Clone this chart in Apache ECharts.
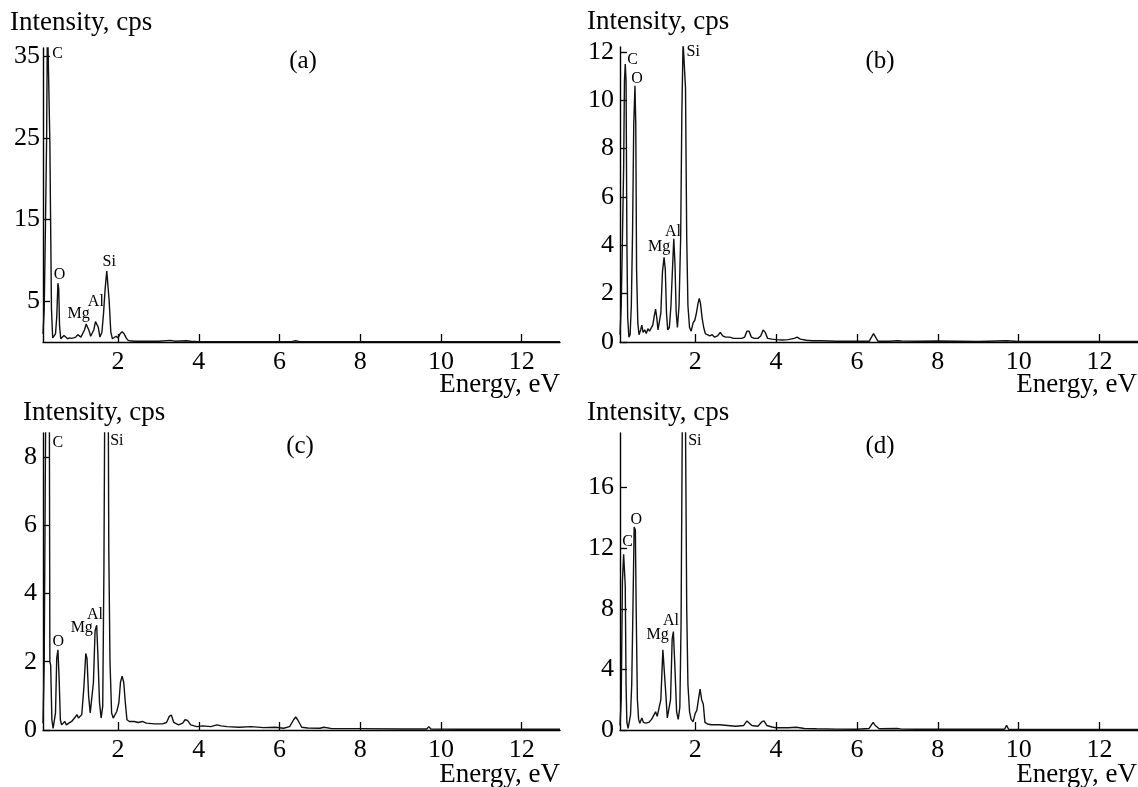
<!DOCTYPE html>
<html>
<head>
<meta charset="utf-8">
<script src="https://cdn.jsdelivr.net/npm/echarts@6/dist/echarts.min.js"></script>
<style>
html,body{margin:0;padding:0;background:#fff;}
#chart{width:1138px;height:787px;}
</style>
</head>
<body>
<div id="chart"></div>
<script>
// ---- Data (energy keV, intensity cps) ----
const spectrumA = [[0.14,1],[0.17,4],[0.2,14],[0.23,25],[0.25,40],[0.27,40],[0.29,40],[0.31,24.5],[0.33,14],[0.35,4],[0.38,0.5],[0.42,0.3],[0.45,1],[0.48,3],[0.51,7.2],[0.53,6.5],[0.55,2],[0.58,0.4],[0.62,0.3],[0.66,0.8],[0.70,0.6],[0.75,0.4],[0.80,0.5],[0.85,0.45],[0.9,0.5],[0.95,0.6],[1.0,0.9],[1.04,0.8],[1.08,0.6],[1.12,0.7],[1.17,1.5],[1.21,2.2],[1.24,2.3],[1.28,1.4],[1.32,0.7],[1.36,0.8],[1.40,1.5],[1.44,2.5],[1.47,2.7],[1.51,1.8],[1.55,0.6],[1.60,1.2],[1.64,3.5],[1.68,6.5],[1.72,8.7],[1.75,8.7],[1.78,5],[1.82,1.2],[1.86,0.4],[1.9,0.3],[1.95,0.7],[2.0,0.5],[2.05,1.0],[2.1,1.25],[2.15,1.0],[2.2,0.5],[2.25,0.2],[2.3,0.15],[2.4,0.1],[2.6,0.1],[2.8,0.1],[3.0,0.1],[3.3,0.2],[3.4,0.1],[3.7,0.15],[3.8,0.1],[4.0,0.05],[5,0.05],[6.3,0.05],[6.4,0.15],[6.5,0.05],[8,0.05],[12.95,0.05]];
const spectrumB = [[0.14,0.3],[0.17,1.5],[0.2,4.3],[0.23,7.2],[0.25,10.8],[0.27,11.5],[0.29,10.8],[0.31,4.3],[0.33,1.0],[0.36,0.2],[0.39,0.3],[0.42,1.5],[0.45,4.5],[0.48,9.0],[0.51,10.6],[0.53,9.0],[0.55,3.0],[0.58,0.8],[0.61,0.3],[0.65,0.5],[0.68,0.7],[0.71,0.4],[0.75,0.5],[0.79,0.35],[0.83,0.55],[0.87,0.45],[0.91,0.5],[0.95,0.7],[0.99,1.1],[1.02,1.36],[1.05,1.0],[1.08,0.5],[1.11,0.5],[1.15,1.2],[1.19,2.9],[1.23,3.5],[1.26,3.0],[1.29,1.2],[1.32,0.5],[1.36,0.6],[1.40,1.5],[1.44,3.1],[1.47,4.27],[1.50,3.2],[1.53,1.2],[1.56,0.6],[1.60,1.5],[1.64,4.3],[1.67,9.5],[1.70,12.4],[1.73,12.4],[1.76,10.5],[1.79,4.3],[1.82,1.5],[1.86,0.6],[1.9,0.45],[1.95,0.8],[1.99,0.9],[2.03,1.2],[2.07,1.6],[2.10,1.8],[2.13,1.6],[2.17,1.0],[2.21,0.6],[2.25,0.35],[2.30,0.3],[2.36,0.25],[2.42,0.3],[2.48,0.2],[2.55,0.25],[2.62,0.4],[2.68,0.25],[2.75,0.2],[2.85,0.2],[2.95,0.15],[3.05,0.15],[3.15,0.15],[3.22,0.2],[3.28,0.45],[3.33,0.45],[3.39,0.2],[3.46,0.15],[3.55,0.15],[3.62,0.25],[3.68,0.5],[3.73,0.4],[3.79,0.15],[3.9,0.12],[4.0,0.1],[4.15,0.08],[4.3,0.1],[4.45,0.15],[4.52,0.2],[4.6,0.12],[4.75,0.07],[4.9,0.05],[5.1,0.05],[5.5,0.03],[6.0,0.03],[6.3,0.03],[6.36,0.2],[6.41,0.35],[6.46,0.2],[6.52,0.03],[6.8,0.03],[7.0,0.05],[7.1,0.04],[7.5,0.03],[8,0.04],[9,0.02],[9.7,0.05],[10,0.02],[11,0.02],[12,0.02],[12.95,0.02]];
const spectrumC = [[0.14,0.2],[0.17,2],[0.2,8],[0.23,14],[0.26,16],[0.29,14],[0.31,2],[0.33,1.9],[0.36,0.3],[0.39,0.05],[0.42,0.1],[0.45,0.5],[0.48,2.1],[0.51,2.35],[0.54,1.5],[0.57,0.3],[0.6,0.15],[0.64,0.2],[0.68,0.25],[0.72,0.15],[0.78,0.2],[0.85,0.25],[0.92,0.35],[0.98,0.45],[1.02,0.35],[1.06,0.3],[1.1,0.45],[1.15,1.2],[1.2,2.24],[1.23,2.1],[1.27,1.0],[1.31,0.5],[1.35,0.5],[1.39,1.4],[1.43,2.9],[1.47,3.07],[1.5,2.2],[1.54,0.8],[1.58,0.35],[1.62,0.7],[1.65,4.8],[1.68,12],[1.72,15],[1.75,12],[1.77,5.3],[1.80,2],[1.84,0.5],[1.88,0.35],[1.92,0.4],[1.97,0.55],[2.02,0.8],[2.06,1.4],[2.1,1.58],[2.14,1.4],[2.18,0.8],[2.22,0.3],[2.28,0.25],[2.4,0.25],[2.5,0.22],[2.6,0.25],[2.7,0.2],[2.9,0.18],[3.1,0.18],[3.2,0.22],[3.27,0.4],[3.32,0.44],[3.38,0.22],[3.5,0.15],[3.6,0.2],[3.66,0.3],[3.72,0.28],[3.8,0.15],[3.95,0.1],[4.1,0.12],[4.3,0.1],[4.45,0.15],[4.55,0.12],[4.7,0.1],[5.0,0.08],[5.3,0.1],[5.6,0.07],[5.9,0.08],[6.1,0.05],[6.25,0.1],[6.35,0.3],[6.4,0.38],[6.45,0.3],[6.55,0.08],[6.7,0.06],[7.0,0.05],[7.1,0.08],[7.3,0.04],[8,0.04],[9,0.03],[9.65,0.03],[9.7,0.1],[9.75,0.03],[10.5,0.02],[12,0.02],[12.95,0.02]];
const spectrumD = [[0.14,0.3],[0.17,2],[0.2,9.8],[0.23,11.6],[0.25,11.6],[0.27,9.5],[0.29,3],[0.31,0.5],[0.34,0.1],[0.37,0.2],[0.4,1],[0.43,3],[0.46,8],[0.49,13.4],[0.52,13.2],[0.54,8],[0.57,2],[0.6,0.7],[0.63,0.45],[0.68,0.8],[0.72,0.5],[0.78,0.45],[0.85,0.5],[0.92,0.7],[0.98,1.0],[1.02,1.2],[1.06,0.9],[1.1,0.8],[1.15,2],[1.2,5.3],[1.23,5.3],[1.27,2.5],[1.31,0.8],[1.35,0.7],[1.39,2],[1.43,6],[1.46,6.5],[1.5,4],[1.54,1.2],[1.58,0.7],[1.62,1.5],[1.65,7],[1.68,20],[1.72,30],[1.76,20],[1.79,8],[1.82,3],[1.86,1.2],[1.9,0.7],[1.95,0.55],[2.0,1.1],[2.04,1.3],[2.08,2],[2.12,2.7],[2.16,2],[2.2,1.7],[2.24,0.5],[2.3,0.4],[2.4,0.35],[2.6,0.35],[2.8,0.3],[3.0,0.25],[3.2,0.3],[3.28,0.6],[3.32,0.6],[3.4,0.3],[3.55,0.25],[3.65,0.55],[3.7,0.6],[3.77,0.3],[3.9,0.2],[4.0,0.15],[4.3,0.15],[4.5,0.18],[4.7,0.1],[5,0.08],[5.5,0.06],[6.0,0.05],[6.3,0.1],[6.4,0.5],[6.45,0.3],[6.55,0.08],[7,0.1],[7.1,0.06],[7.5,0.05],[8.5,0.05],[9.65,0.05],[9.7,0.3],[9.75,0.05],[10.5,0.03],[12,0.03],[12.95,0.03]];

// peak annotations: [element, energy, label height]
const peaksA = [['C',0.5,35.3],['O',0.55,8.2],['Mg',1.02,3.5],['Al',1.45,4.9],['Si',1.78,9.8]];
const peaksB = [['C',0.45,11.66],['O',0.56,10.87],['Mg',1.11,3.93],['Al',1.45,4.55],['Si',1.95,11.99]];
const peaksC = [['C',0.51,8.42],['O',0.52,2.57],['Mg',1.10,3.0],['Al',1.43,3.36],['Si',1.97,8.48]];
const peaksD = [['C',0.33,12.4],['O',0.54,13.86],['Mg',1.07,6.27],['Al',1.40,7.23],['Si',1.99,19.1]];

// tick labels
const xTicks = [2,4,6,8,10,12];
const yTicksA = [5,15,25,35];
const yTicksB = [0,2,4,6,8,10,12];
const yTicksC = [0,2,4,6,8];
const yTicksD = [0,4,8,12,16];
const yMax = [36,12.2,8.7,19.6];
const panelNames = ['(a)','(b)','(c)','(d)'];
const xTitle = 'Energy, eV';
const yTitle = 'Intensity, cps';

// ---- Chart ----
const FONT = '"Liberation Serif", "Times New Roman", serif';
const chart = echarts.init(document.getElementById('chart'), null, {renderer:'canvas'});
const grids = [
  {left:43, top:48, width:517, height:294},
  {left:620, top:47, width:518, height:295},
  {left:43, top:433, width:517, height:297},
  {left:620, top:433, width:518, height:297}
];
const spectra = [spectrumA, spectrumB, spectrumC, spectrumD];
const peaks = [peaksA, peaksB, peaksC, peaksD];
const yTicks = [yTicksA, yTicksB, yTicksC, yTicksD];
const axisLine = {show:true, onZero:false, lineStyle:{color:'#000', width:1.4}};

const xAxes = grids.map((g,i)=>({
  type:'value', gridIndex:i, min:0.14, max:12.95,
  axisLine:axisLine,
  axisTick:{show:true, inside:true, length:8, customValues:xTicks, lineStyle:{color:'#000', width:1.3}},
  axisLabel:{customValues:xTicks, color:'#000', fontFamily:FONT, fontSize:26, margin:7},
  splitLine:{show:false}
}));
const yAxes = grids.map((g,i)=>({
  type:'value', gridIndex:i, min:0, max:yMax[i],
  axisLine:axisLine,
  axisTick:{show:true, inside:true, length:7, customValues:yTicks[i], lineStyle:{color:'#000', width:1.3}},
  axisLabel:{customValues:yTicks[i], color:'#000', fontFamily:FONT, fontSize:26, margin:i===0?3:6},
  splitLine:{show:false}
}));

const series = [];
spectra.forEach((s,i)=>{
  series.push({
    type:'line', xAxisIndex:i, yAxisIndex:i, data:s, showSymbol:false, symbol:'none',
    lineStyle:{color:'#111', width:1.4}, clip:true, silent:true, z:3
  });
  series.push({
    type:'scatter', xAxisIndex:i, yAxisIndex:i, symbolSize:1, silent:true, clip:false,
    itemStyle:{color:'rgba(0,0,0,0)', opacity:1},
    data:peaks[i].map(p=>[p[1],p[2],p[0]]),
    label:{show:true, position:'inside', formatter:p=>p.data[2], color:'#000', opacity:1,
           textBorderWidth:0, textBorderColor:'transparent', fontFamily:FONT, fontSize:16},
    z:4
  });
});

const graphic = [];
const titleTops = [9, 8, 399, 399];
const titleLefts = [10, 587, 23, 587];
const energyTops = [371, 371, 761, 761];
const energyRights = [578, 1, 578, 1];
const panelPos = [[303,61],[880,61],[300,446],[880,446]];
for (let i=0;i<4;i++){
  graphic.push({type:'text', left:titleLefts[i], top:titleTops[i], style:{text:yTitle, font:'27px '+FONT, fill:'#000'}});
  graphic.push({type:'text', right:energyRights[i], top:energyTops[i], style:{text:xTitle, font:'27px '+FONT, fill:'#000'}});
  graphic.push({type:'text', x:panelPos[i][0], y:panelPos[i][1], style:{text:panelNames[i], font:'25px '+FONT, fill:'#000', align:'center', verticalAlign:'middle'}});
}

chart.setOption({
  animation:false,
  backgroundColor:'#fff',
  grid:grids,
  xAxis:xAxes,
  yAxis:yAxes,
  series:series,
  graphic:graphic
});
</script>
</body>
</html>
